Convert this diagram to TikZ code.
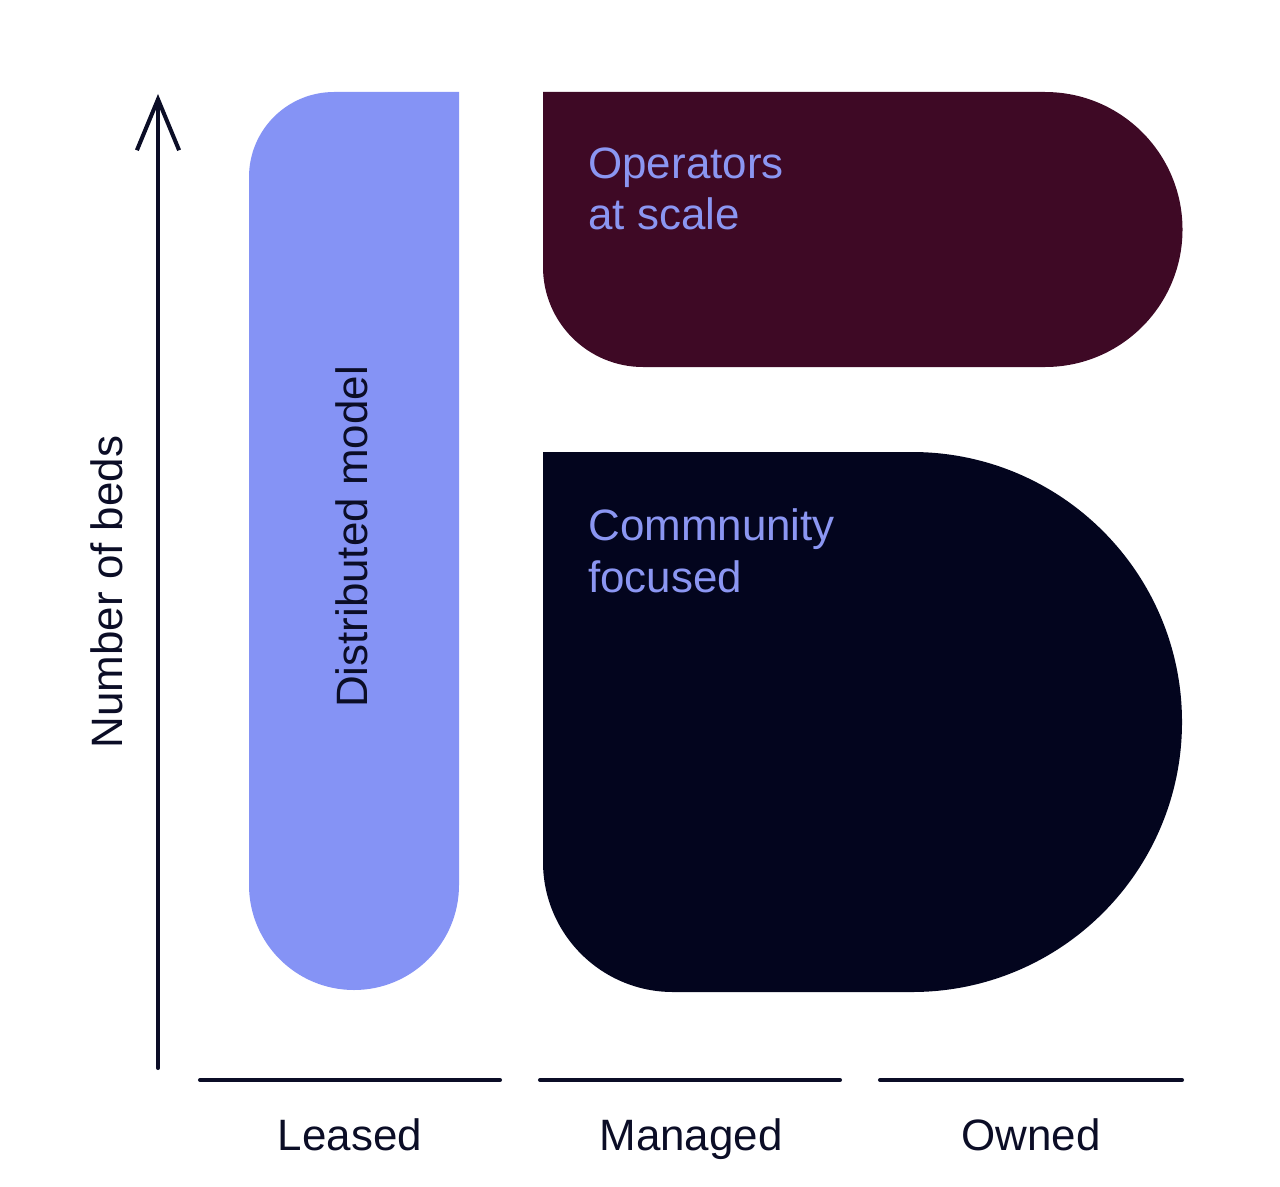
\documentclass[tikz,border=0pt]{standalone}
\usepackage{fontspec}
\setmainfont{Liberation Sans}
\usetikzlibrary{arrows.meta}
\usetikzlibrary{positioning}
\definecolor{leasedblue}{RGB}{133,147,245}
\definecolor{scalemaroon}{RGB}{62,9,37}
\definecolor{communitynavy}{RGB}{3,5,30}
\definecolor{labellav}{RGB}{139,150,242}
\definecolor{axisink}{RGB}{11,13,38}
\begin{document}
\begin{tikzpicture}[line cap=round,line join=round,>={Straight Barb[length=29pt,width=24pt]},x=0.02cm,y=-0.02cm,
    axisline/.style={line width=2.3pt,draw=axisink},
    lbl/.style={inner sep=0pt,font=\fontsize{25}{29.5}\selectfont,text=axisink},
    boxlbl/.style={inner sep=0pt,font=\fontsize{25}{29.5}\selectfont,text=labellav,align=left,anchor=north west}]
      \useasboundingbox (0,0) rectangle (1280,1186);
      % shapes
      \fill [leasedblue] (459,92) -- (459,885) arc[start angle=0,end angle=180,radius=105] -- (249,177) arc[start angle=180,end angle=270,radius=85] -- cycle;
      \fill [scalemaroon] (543,92) -- (1045,92) arc[start angle=270,end angle=450,radius=137.5] -- (643,367) arc[start angle=90,end angle=180,radius=100] -- cycle;
      \fill [communitynavy] (543,452) -- (912,452) arc[start angle=270,end angle=450,radius=270] -- (673,992) arc[start angle=90,end angle=180,radius=130] -- cycle;
      % vertical axis
      \coordinate (origin) at (158,1068);
      \coordinate (ytop) at (158,94);
      \draw [axisline,->] (origin) -- (ytop);
      \node [lbl,rotate=90] (beds) at (107,592) {Number of beds};
      % horizontal segments
      \draw [axisline] (200,1080) -- (500,1080);
      \draw [axisline] (540,1080) -- (840,1080);
      \draw [axisline] (880,1080) -- (1182,1080);
      \node [lbl,anchor=base] (leased) at (350,1150) {Leased};
      \node [lbl,anchor=base] (managed) at (691,1150) {Managed};
      \node [lbl,anchor=base] (owned) at (1031,1150) {Owned};
      % labels in shapes
      \node [lbl,rotate=90] (distributed) at (352,537) {Distributed model};
      \node [boxlbl] (operators) at (588,147) {Operators\\at scale};
      \node [boxlbl] (community) at (588,508) {Commnunity\\focused};
\end{tikzpicture}
\end{document}
